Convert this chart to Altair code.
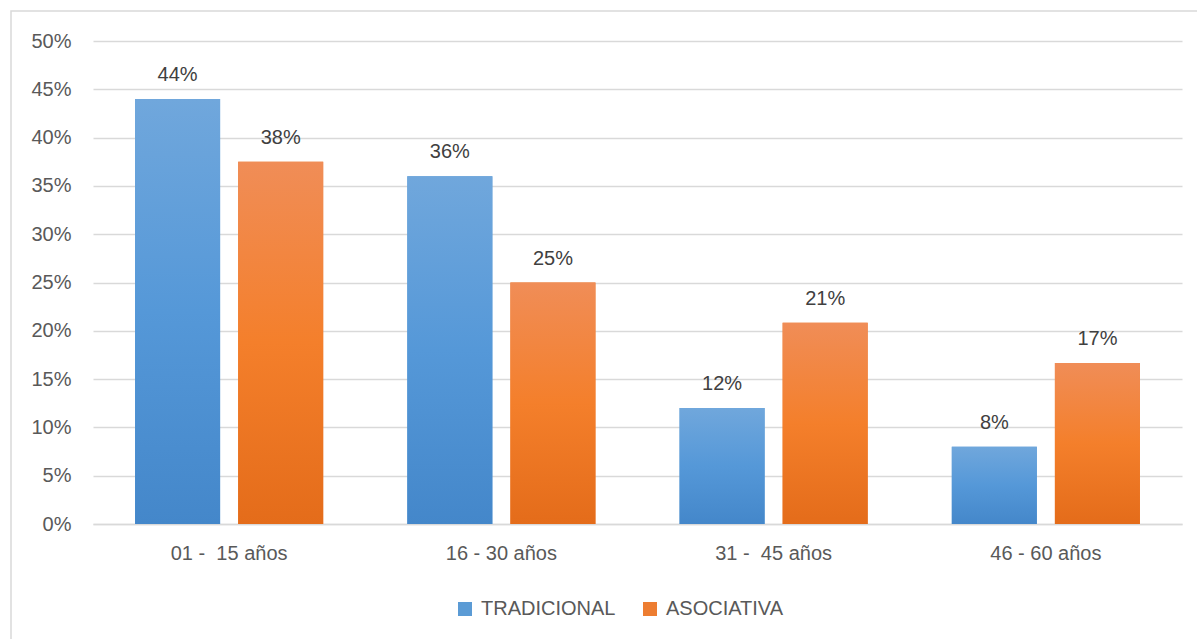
import altair as alt
import pandas as pd

categorias = ["01 -\u00a0 15 años", "16 - 30 años", "31 -\u00a0 45 años", "46 - 60 años"]
series = ["TRADICIONAL", "ASOCIATIVA"]
tradicional = [0.44, 0.36, 0.12, 0.08]
asociativa = [0.375, 0.25, 0.2083, 0.1667]
y_ticks = [0, 0.05, 0.10, 0.15, 0.20, 0.25, 0.30, 0.35, 0.40, 0.45, 0.50]
colores = ["#5B9BD5", "#ED7D31"]

rows = []
for c, t, a in zip(categorias, tradicional, asociativa):
    rows.append({"cat": c, "serie": series[0], "v": t})
    rows.append({"cat": c, "serie": series[1], "v": a})
df = pd.DataFrame(rows)

FONT = "Liberation Sans"
FS = 20

grad_blue = {"gradient": "linear", "x1": 0, "y1": 0, "x2": 0, "y2": 1,
             "stops": [{"offset": 0, "color": "#70A7DC"}, {"offset": 0.5, "color": "#5598D8"},
                       {"offset": 1, "color": "#4487CA"}]}
grad_orange = {"gradient": "linear", "x1": 0, "y1": 0, "x2": 0, "y2": 1,
               "stops": [{"offset": 0, "color": "#F08D57"}, {"offset": 0.5, "color": "#F47F2B"},
                         {"offset": 1, "color": "#E46C1A"}]}

x = alt.X("cat:N", sort=categorias,
          scale=alt.Scale(domain=categorias, paddingInner=0, paddingOuter=0),
          axis=alt.Axis(title=None, labelAngle=0, ticks=False, domainColor="#D9D9D9",
                        domainWidth=1.5, labelFontSize=FS, labelColor="#595959",
                        labelPadding=19, labelFont=FONT))
xoff = alt.XOffset("serie:N", sort=series,
                   scale=alt.Scale(domain=series, paddingInner=0.175, paddingOuter=0.408))
y = alt.Y("v:Q", scale=alt.Scale(domain=[0, 0.5], nice=False),
          axis=alt.Axis(values=y_ticks, format=".0%", title=None, domain=False, ticks=False,
                        gridColor="#D9D9D9", gridWidth=1.5, labelFontSize=FS,
                        labelColor="#595959", labelPadding=22, labelFont=FONT))

base = alt.Chart(df)

border = alt.Chart(pd.DataFrame({"a": [0]})).mark_rect(
    fill=None, stroke="#D9D9D9", strokeWidth=1.5
).encode(x=alt.value(-82), x2=alt.value(1125), y=alt.value(-30), y2=alt.value(620))

flat = base.mark_bar().encode(
    x=x, xOffset=xoff, y=y,
    color=alt.Color("serie:N", sort=series,
                    scale=alt.Scale(domain=series, range=colores),
                    legend=alt.Legend(title=None, orient="none", legendX=362, legendY=558,
                                      direction="horizontal", symbolType="square",
                                      symbolSize=196, symbolStrokeWidth=0,
                                      labelFontSize=FS, labelColor="#595959",
                                      labelFont=FONT, columnPadding=24, labelOffset=6))
)

blue = base.mark_bar(fill=grad_blue).encode(x=x, xOffset=xoff, y=y).transform_filter(
    alt.datum.serie == series[0])
orange = base.mark_bar(fill=grad_orange).encode(x=x, xOffset=xoff, y=y).transform_filter(
    alt.datum.serie == series[1])

labels = base.mark_text(baseline="bottom", dy=-14, fontSize=FS, color="#404040",
                        font=FONT).encode(
    x=x, xOffset=xoff, y=y, text=alt.Text("v:Q", format=".0%"))

chart = alt.layer(border, flat, blue, orange, labels).properties(
    width=1089, height=483,
    autosize=alt.AutoSizeParams(type="none"),
    padding={"left": 93, "top": 41, "right": 15, "bottom": 115},
    background="white"
).configure_view(stroke=None)

chart.save("out.html", embed_options={"renderer": "svg", "actions": False})
